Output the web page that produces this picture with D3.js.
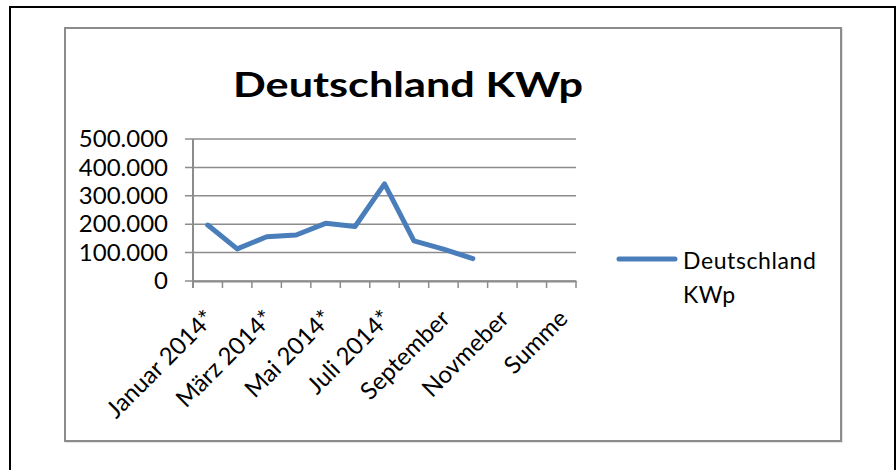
<!DOCTYPE html>
<html>
<head>
<meta charset="utf-8">
<script src="https://cdn.jsdelivr.net/npm/d3@7"></script>
<style>
  body { margin: 0; background: #fff; }
  svg { display: block; font-family: Lato, "Open Sans", sans-serif; }
</style>
</head>
<body>
<svg class="linechart" width="896" height="470"></svg>
<script>
// categories and values
var categories = ["Januar 2014*", "Februar 2014*", "März 2014*", "April 2014*", "Mai 2014*",
  "Juni 2014*", "Juli 2014*", "August 2014*", "September", "Oktober", "Novmeber", "Dezember", "Summe"];
var values = [197000, 113000, 156000, 162000, 203000, 192000, 342000, 141000, 112000, 79000, null, null, null];
var yTicks = [0, 100000, 200000, 300000, 400000, 500000];
var seriesName = "Deutschland KWp";

var svg = d3.select(".linechart");

// outer frame + chart area frame
svg.append("rect")
    .attr("x", 10).attr("y", 7).attr("width", 885).attr("height", 500)
    .attr("fill", "none").attr("stroke", "#000").attr("stroke-width", 2);
svg.append("rect")
    .attr("x", 66).attr("y", 29).attr("width", 776).attr("height", 413)
    .attr("fill", "none").attr("stroke", "#e4e4e4").attr("stroke-width", 2);
svg.append("rect")
    .attr("x", 65).attr("y", 28).attr("width", 776).attr("height", 413)
    .attr("fill", "#fff").attr("stroke", "#8c8c8c").attr("stroke-width", 2);

var margin = {top: 139, left: 193},
    width = 576 - 193,
    height = 281 - 139;

var x = d3.scaleBand()
    .domain(categories)
    .range([0, width]);

var y = d3.scaleLinear()
    .domain([0, 500000])
    .range([height, 0]);

var fmt = function(d) { return d === 0 ? "0" : d3.format(",")(d).replace(/,/g, "."); };

var g = svg.append("g")
    .attr("transform", "translate(" + margin.left + "," + margin.top + ")");

// title
svg.append("text")
    .attr("x", 408).attr("y", 97)
    .attr("text-anchor", "middle")
    .attr("textLength", 350)
    .attr("lengthAdjust", "spacingAndGlyphs")
    .style("font-size", "35px").style("font-weight", "bold")
    .text(seriesName);

// gridlines
g.selectAll(".grid")
    .data(yTicks)
  .enter().append("line")
    .attr("x1", -8).attr("x2", width)
    .attr("y1", function(d) { return y(d); })
    .attr("y2", function(d) { return y(d); })
    .attr("stroke", "#8c8c8c").attr("stroke-width", 1.5);

var yAxis = g.append("g")
    .call(d3.axisLeft(y).tickValues(yTicks).tickFormat(fmt).tickSize(0).tickPadding(25));
yAxis.select(".domain").remove();
yAxis.selectAll("text").style("font-size", "24px").style("font-family", "Lato").attr("fill", "#000");

var xAxis = g.append("g")
    .attr("transform", "translate(0," + height + ")")
    .call(d3.axisBottom(x).tickValues([]).tickSizeOuter(0));
xAxis.select(".domain").attr("stroke", "#8c8c8c").attr("stroke-width", 2);

// tick marks between categories
var bounds = categories.map(function(c) { return x(c); }).concat([width]);
g.selectAll(".xtick")
    .data(bounds)
  .enter().append("line")
    .attr("x1", function(d) { return d; }).attr("x2", function(d) { return d; })
    .attr("y1", height).attr("y2", height + 7)
    .attr("stroke", "#8c8c8c").attr("stroke-width", 1.5);

// y axis line
g.append("line")
    .attr("x1", 0).attr("x2", 0).attr("y1", 0).attr("y2", height + 7)
    .attr("stroke", "#8c8c8c").attr("stroke-width", 2);

// rotated category labels (every other one)
g.selectAll(".xlabel")
    .data(categories.filter(function(d, i) { return i % 2 === 0; }))
  .enter().append("text")
    .attr("text-anchor", "end")
    .attr("transform", function(d) {
      return "translate(" + (x(d) + x.bandwidth() / 2 + 8) + "," + (height + 39) + ") rotate(-45)";
    })
    .style("font-size", "24px")
    .text(function(d) { return d; });

// the line
var line = d3.line()
    .defined(function(d) { return d != null; })
    .x(function(d, i) { return x(categories[i]) + x.bandwidth() / 2; })
    .y(function(d) { return y(d); });

g.append("path")
    .datum(values)
    .attr("fill", "none")
    .attr("stroke", "#4a7ebb")
    .attr("stroke-width", 5)
    .attr("stroke-linejoin", "round")
    .attr("stroke-linecap", "round")
    .attr("d", line);

// legend
var legend = svg.append("g").attr("transform", "translate(619,259)");
legend.append("line")
    .attr("x1", 0).attr("x2", 56)
    .attr("stroke", "#4a7ebb").attr("stroke-width", 5).attr("stroke-linecap", "round");
legend.append("text")
    .attr("x", 64).attr("y", 10)
    .style("font-size", "23px").style("letter-spacing", "0.6px")
    .text("Deutschland");
legend.append("text")
    .attr("x", 64).attr("y", 44)
    .style("font-size", "23px").style("letter-spacing", "0.6px")
    .text("KWp");
</script>
</body>
</html>
